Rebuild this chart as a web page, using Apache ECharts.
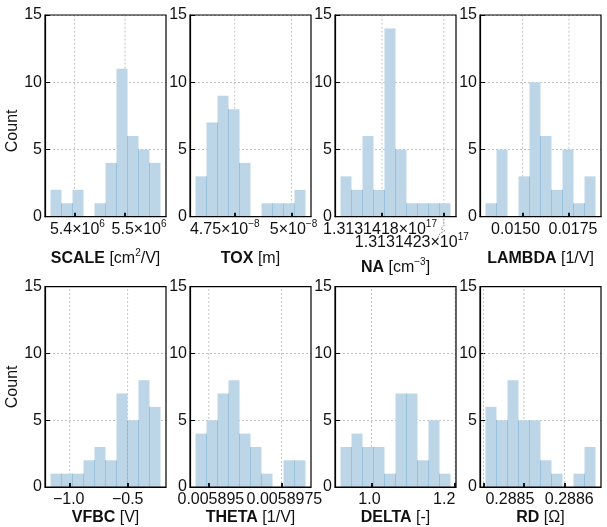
<!DOCTYPE html>
<html>
<head>
<meta charset="utf-8">
<script src="https://cdn.jsdelivr.net/npm/echarts@6/dist/echarts.min.js"></script>
<style>
  html, body { margin: 0; padding: 0; background: #fff; }
  #chart { width: 607px; height: 527px; }
</style>
</head>
<body>
<div id="chart"></div>
<script>
// Histograms of the extracted model parameters (36 samples each, 10 bins)

// SCALE [cm²/V]
const scaleCounts = [2, 1, 2, 0, 1, 4, 11, 6, 5, 4];
const scaleRange = [5.3529e6, 5.5700e6];
const scaleTicks = [5.4e6, 5.5e6];
const scaleTickLabels = ['5.4×10^6', '5.5×10^6'];

// TOX [m]
const toxCounts = [3, 7, 9, 8, 4, 0, 1, 1, 1, 2];
const toxRange = [4.5767e-8, 5.0617e-8];
const toxTicks = [4.75e-8, 5e-8];
const toxTickLabels = ['4.75×10^-8', '5×10^-8'];

// NA [cm⁻³]
const naCounts = [3, 2, 6, 2, 14, 5, 1, 1, 1, 1];
const naRange = [131314146450000000, 131314235400000000];
const naTicks = [131314180000000000, 131314230000000000];
const naTickLabels = ['1.3131418×10^17', '1.3131423×10^17'];

// LAMBDA [1/V]
const lambdaCounts = [1, 5, 0, 3, 10, 6, 2, 5, 1, 3];
const lambdaRange = [0.013003, 0.018930];
const lambdaTicks = [0.015, 0.0175];
const lambdaTickLabels = ['0.0150', '0.0175'];

// VFBC [V]
const vfbcCounts = [1, 1, 1, 2, 3, 2, 7, 5, 8, 6];
const vfbcRange = [-1.1655, -0.2170];
const vfbcTicks = [-1.0, -0.5];
const vfbcTickLabels = ['−1.0', '−0.5'];

// THETA [1/V]
const thetaCounts = [4, 5, 7, 8, 4, 3, 1, 0, 2, 2];
const thetaRange = [0.00589454, 0.00589833];
const thetaTicks = [0.005895, 0.0058975];
const thetaTickLabels = ['0.005895', '0.0058975'];

// DELTA [-]
const deltaCounts = [3, 4, 3, 3, 1, 7, 7, 2, 5, 1];
const deltaRange = [0.9262, 1.1888];
const deltaTicks = [1.0, 1.2];
const deltaTickLabels = ['1.0', '1.2'];

// RD [Ω]
const rdCounts = [6, 5, 8, 5, 5, 2, 1, 0, 1, 3];
const rdRange = [0.28840488, 0.28867732];
const rdTicks = [0.2884, 0.2885, 0.2886];
const rdTickLabels = ['', '0.2885', '0.2886'];

// Axis titles: bold name, unit in brackets (^ marks a superscript)
const paramNames = ['SCALE', 'TOX', 'NA', 'LAMBDA', 'VFBC', 'THETA', 'DELTA', 'RD'];
const paramUnits = ['[cm^2/V]', '[m]', '[cm^-3]', '[1/V]', '[V]', '[1/V]', '[-]', '[Ω]'];

const countTicks = [0, 5, 10, 15];

const panels = [
  { counts: scaleCounts, range: scaleRange, ticks: scaleTicks, labels: scaleTickLabels },
  { counts: toxCounts, range: toxRange, ticks: toxTicks, labels: toxTickLabels },
  { counts: naCounts, range: naRange, ticks: naTicks, labels: naTickLabels },
  { counts: lambdaCounts, range: lambdaRange, ticks: lambdaTicks, labels: lambdaTickLabels },
  { counts: vfbcCounts, range: vfbcRange, ticks: vfbcTicks, labels: vfbcTickLabels },
  { counts: thetaCounts, range: thetaRange, ticks: thetaTicks, labels: thetaTickLabels },
  { counts: deltaCounts, range: deltaRange, ticks: deltaTicks, labels: deltaTickLabels },
  { counts: rdCounts, range: rdRange, ticks: rdTicks, labels: rdTickLabels }
];

// horizontal nudges (px) that keep neighbouring tick labels apart, per panel and tick
const labelNudge = [
  [3, 14], [-10, 2], [-2, -32], [-7, 4],
  [-1, 0], [2, 3], [-2, -11], [0, -14, 5]
];

const FONT = '"Liberation Sans", Arial, sans-serif';
const FS = 16;
const FILL = '#bcd6e8';
const EDGE = 'rgba(31,119,180,0.30)';
const GRID_LINE = '#b4b4b4';
const TEXT = '#111';

const lefts = [45, 190, 335, 480];
const panelWidth = 121;
const rowTop = [15, 286.7];
const rowHeight = [201.7, 201];

const richBase = {
  m: { fontFamily: FONT, fontSize: FS, color: TEXT, lineHeight: 18, verticalAlign: 'bottom' },
  b: { fontFamily: FONT, fontSize: FS, color: TEXT, fontWeight: 'bold', lineHeight: 18, verticalAlign: 'bottom' },
  sup: { fontFamily: FONT, fontSize: 10, color: TEXT, lineHeight: 10, verticalAlign: 'top' },
  gap: { lineHeight: 13 }
};

// "a×10^b" -> rich text with a superscript exponent
function richText(s, style) {
  const i = s.indexOf('^');
  if (i < 0) return '{' + style + '|' + s + '}';
  const j = s.indexOf('/', i);
  const k = s.indexOf(']', i);
  let end = s.length;
  if (j > i) end = Math.min(end, j);
  if (k > i) end = Math.min(end, k);
  const head = s.slice(0, i), exp = s.slice(i + 1, end), tail = s.slice(end);
  return '{' + style + '|' + head + '}{sup|' + exp.replace('-', '−') + '}' + (tail ? '{' + style + '|' + tail + '}' : '');
}

const option = {
  backgroundColor: '#fff',
  animation: false,
  textStyle: { fontFamily: FONT, fontSize: FS, color: TEXT },
  grid: [], xAxis: [], yAxis: [], series: [],
  graphic: []
};

const extraAxes = [];

panels.forEach(function (p, k) {
  const row = k < 4 ? 0 : 1;
  const col = k % 4;
  const lo = p.range[0], hi = p.range[1];
  const span = hi - lo;
  const binW = span / p.counts.length;
  const xmin = lo - 0.05 * span, xmax = hi + 0.05 * span;
  const labelledIdx = [];
  p.labels.forEach(function (l, i) { if (l !== '') labelledIdx.push(i); });

  // one tick label, nudged sideways with an empty spacer token
  const labelFor = function (idx) {
    const nudge = labelNudge[k][idx] || 0;
    const rich = Object.assign({}, richBase, {
      pad: { width: Math.abs(nudge) * 2, lineHeight: 18 }
    });
    const stagger = (k === 2 && idx === 1);
    return {
      show: true, margin: 3, rich: rich, fontFamily: FONT, fontSize: FS, color: TEXT,
      showMinLabel: true, showMaxLabel: true,
      customValues: [p.ticks[idx]],
      formatter: function () {
        let txt = richText(p.labels[idx], 'm');
        if (nudge < 0) txt = txt + '{pad|}';
        else if (nudge > 0) txt = '{pad|}' + txt;
        return stagger ? '{gap|}\n' + txt : txt;
      }
    };
  };

  option.grid.push({
    left: lefts[col], top: rowTop[row], width: panelWidth, height: rowHeight[row],
    show: true, borderColor: '#000', borderWidth: 1.2, z: 3
  });

  const nameGap = row === 0 ? (k === 2 ? 41 : 32) : 21;
  option.xAxis.push({
    gridIndex: k, type: 'value', z: 3, position: 'bottom',
    min: xmin, max: xmax,
    axisLine: { show: true, onZero: false, lineStyle: { color: '#000', width: 1.2 } },
    axisTick: { show: true, inside: true, length: 4, customValues: p.ticks, lineStyle: { color: '#000', width: 1.8 } },
    axisLabel: labelFor(labelledIdx[0]),
    splitLine: { show: false },
    name: '{b|' + paramNames[k] + '} ' + richText(paramUnits[k], 'm'),
    nameLocation: 'middle', nameGap: nameGap,
    nameTextStyle: { rich: richBase, fontFamily: FONT, fontSize: FS, color: TEXT }
  });

  // the remaining tick labels each sit on a label-only axis sharing the grid
  labelledIdx.slice(1).forEach(function (idx) {
    extraAxes.push({
      gridIndex: k, type: 'value', z: 3, position: 'bottom',
      min: xmin, max: xmax,
      axisLine: { show: false, onZero: false },
      axisTick: { show: false },
      axisLabel: labelFor(idx),
      splitLine: { show: false }
    });
  });

  option.yAxis.push({
    gridIndex: k, type: 'value', min: countTicks[0], max: countTicks[countTicks.length - 1], interval: 5,
    axisLine: { show: true, lineStyle: { color: '#000', width: 1.2 } },
    axisTick: { show: true, inside: true, length: 5, lineStyle: { color: '#000', width: 1 } },
    axisLabel: { fontFamily: FONT, fontSize: FS, color: TEXT, margin: 3, showMinLabel: true, showMaxLabel: true },
    splitLine: { show: true, lineStyle: { color: GRID_LINE, width: 0.8, type: [2, 2] } },
    name: col === 0 ? 'Count' : '',
    nameLocation: 'middle', nameGap: 17,
    nameTextStyle: { fontFamily: FONT, fontSize: FS, color: TEXT, padding: row === 0 ? [0, 30, 0, 0] : 0 }
  });

  // vertical grid lines at the x ticks, below the bars
  option.series.push({
    type: 'custom', xAxisIndex: k, yAxisIndex: k, z: 1, silent: true,
    data: p.ticks.map(function (t) { return [t]; }),
    renderItem: function (params, api) {
      const a = api.coord([api.value(0), countTicks[0]]);
      const b = api.coord([api.value(0), countTicks[countTicks.length - 1]]);
      return { type: 'line', shape: { x1: a[0], y1: a[1], x2: b[0], y2: b[1] },
        style: { stroke: GRID_LINE, lineWidth: 0.8, lineDash: [2, 2] } };
    }
  });

  // histogram bars: [binStart, binEnd, count, previousCount]
  option.series.push({
    type: 'custom', xAxisIndex: k, yAxisIndex: k, z: 2, silent: true,
    encode: { x: [0, 1], y: 2 },
    data: p.counts.map(function (c, i) {
      return [lo + i * binW, lo + (i + 1) * binW, c, i > 0 ? p.counts[i - 1] : 0];
    }),
    renderItem: function (params, api) {
      const c = api.value(2);
      if (!c) return null;
      const p0 = api.coord([api.value(0), 0]);
      const p1 = api.coord([api.value(1), c]);
      const children = [{
        type: 'rect',
        shape: { x: p0[0], y: p1[1], width: p1[0] - p0[0], height: p0[1] - p1[1] },
        style: { fill: FILL }
      }];
      const prev = api.value(3);
      if (prev > 0) {
        const top = api.coord([api.value(0), Math.min(prev, c)]);
        children.push({ type: 'line', shape: { x1: p0[0], y1: p0[1], x2: p0[0], y2: top[1] },
          style: { stroke: EDGE, lineWidth: 1 } });
      }
      return { type: 'group', children: children };
    }
  });
});

option.xAxis = option.xAxis.concat(extraAxes);

const chart = echarts.init(document.getElementById('chart'), null, { renderer: 'canvas' });
chart.setOption(option);

// leader for the staggered NA tick label
const tx = chart.convertToPixel({ xAxisIndex: 2 }, naTicks[1]);
const ty = chart.convertToPixel({ yAxisIndex: 2 }, 0);
chart.setOption({
  graphic: [{
    type: 'polyline', silent: true, z: 10,
    shape: { points: [[tx, ty + 2], [tx, ty + 9], [tx - 3, ty + 12], [tx + 1, ty + 14], [tx - 4, ty + 17], [tx - 6, ty + 21]] },
    style: { stroke: '#888', lineWidth: 0.9, lineDash: [2, 1], fill: null }
  }]
});
</script>
</body>
</html>
